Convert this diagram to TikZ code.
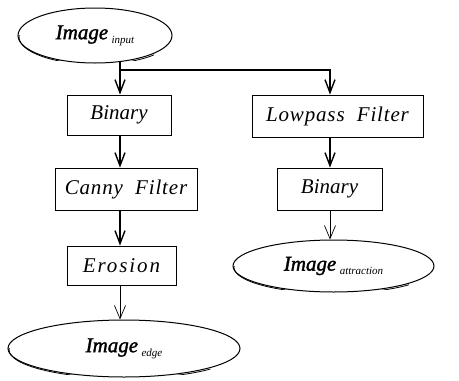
\documentclass[tikz,border=0pt]{standalone}
\usepackage{fontspec}
\setmainfont{Liberation Serif}
\usetikzlibrary{shapes.geometric,arrows.meta}
\newcommand{\sbs}[1]{\,\raisebox{-4pt}{\fontsize{11}{11}\selectfont #1}}
\newcommand{\imgtxt}[1]{{\addfontfeatures{FakeBold=1.6}Image}\sbs{#1}}
\tikzset{
  boxnode/.style={draw, line width=0.9pt, minimum height=40pt, inner sep=0pt, font=\fontsize{21}{21}\selectfont\itshape},
  ellnode/.style={draw, ellipse, line width=1pt, inner sep=0pt, font=\fontsize{21}{21}\selectfont\itshape},
  thk/.style={line width=1.4pt, -{Straight Barb[length=13pt,width=10pt,line width=1.4pt]}},
  thn/.style={line width=0.7pt, -{Straight Barb[length=13pt,width=11pt,line width=0.7pt]}},
}
\begin{document}
\begin{tikzpicture}[x=1pt,y=-1pt]
\useasboundingbox (0,0) rectangle (459,381);
% nodes
\node[ellnode, minimum width=154pt, minimum height=55pt] (top) at (95,35.5) {\imgtxt{input}};
\node[boxnode, minimum width=104pt] (binL) at (119,115) {Binary};
\node[boxnode, minimum width=142pt, minimum height=42pt] (canny) at (126,189) {\addfontfeatures{LetterSpace=4}Canny\ \ Filter};
\node[boxnode, minimum width=109pt, minimum height=39pt] (ero) at (121.5,265.5) {\addfontfeatures{LetterSpace=9}Erosion};
\node[ellnode, minimum width=232pt, minimum height=57pt] (edge) at (124,348.5) {\imgtxt{edge}};
\node[boxnode, minimum width=171pt, minimum height=42pt] (lp) at (337.5,116) {\addfontfeatures{LetterSpace=4}Lowpass\ \ Filter};
\node[boxnode, minimum width=105pt, minimum height=42pt] (binR) at (329.5,189) {Binary};
\node[ellnode, minimum width=201pt, minimum height=52pt] (attr) at (333.5,266) {\imgtxt{attraction}};
% thicker lower rims of the ellipses
\foreach \e/\rx/\ry in {top/77/27.5, edge/116/28.5, attr/100.5/26}{
  \begin{scope}
    \clip ([xshift=-4pt]\e.west) rectangle ([xshift=4pt,yshift=-5pt]\e.south east);
    \draw[line width=0.8pt] ([xshift=1pt,yshift=-1.3pt]\e.center) ellipse [x radius=\rx pt, y radius=\ry pt];
  \end{scope}
}
% column coordinates
\coordinate (colL) at (120,0);
\coordinate (colR) at (330,0);
\coordinate (br) at (120,70);
% connectors
\draw[thk, shorten <=-1.5pt] (top.south -| colL) -- (binL.north -| colL);
\draw[thk] (br) -| (lp.north -| colR);
\draw[thk] (binL.south -| colL) -- (canny.north -| colL);
\draw[thk] (canny.south -| colL) -- (ero.north -| colL);
\draw[thn] (ero.south -| colL) -- (edge.north -| colL);
\draw[thk] (lp.south -| colR) -- (binR.north -| colR);
\draw[thn] (binR.south -| colR) -- (attr.north -| colR);
\end{tikzpicture}
\end{document}
